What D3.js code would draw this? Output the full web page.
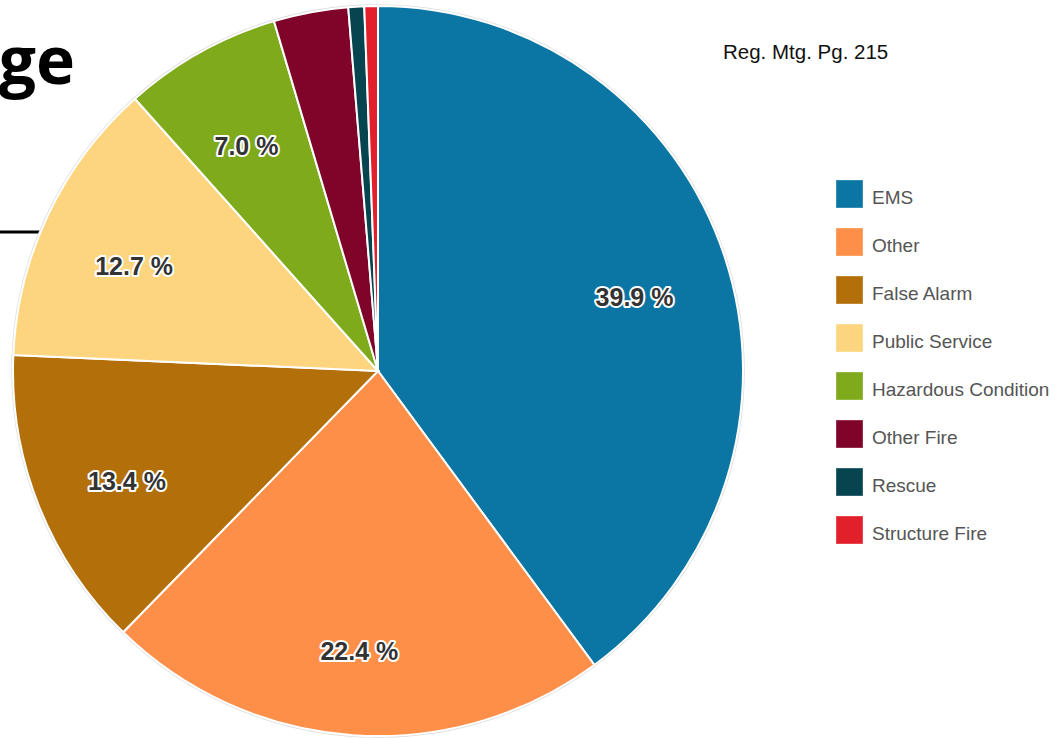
<!DOCTYPE html>
<html>
<head>
<meta charset="utf-8">
<script src="https://cdn.jsdelivr.net/npm/d3@7"></script>
<style>
  body { margin: 0; background: #fff; }
  svg { display: block; }
</style>
</head>
<body>
<svg id="chart" width="1061" height="738"></svg>
<script>
const categories = ["EMS", "Other", "False Alarm", "Public Service", "Hazardous Condition", "Other Fire", "Rescue", "Structure Fire"];
const values = [39.9, 22.4, 13.4, 12.7, 7.0, 3.3, 0.7, 0.6];
const colors = ["#0b76a4", "#fd8f48", "#b3700a", "#fdd57f", "#7faa1c", "#80042a", "#064550", "#e2202b"];
const shownLabels = ["39.9 %", "22.4 %", "13.4 %", "12.7 %", "7.0 %", "", "", ""];

let w = 1061, h = 738;
let cx = 378, cy = 371, r = 365;

const svg = d3.select("#chart");

// slide leftovers behind the chart
svg.append("text")
   .attr("x", 75)
   .attr("y", 84)
   .attr("text-anchor", "end")
   .style("font-family", "'Open Sans', sans-serif")
   .style("font-weight", "bold")
   .style("font-size", "66px")
   .style("fill", "#000")
   .text("ge");

svg.append("line")
   .attr("x1", 0).attr("x2", 60)
   .attr("y1", 232).attr("y2", 232)
   .style("stroke", "#000")
   .style("stroke-width", "3px");

svg.append("text")
   .attr("x", 723)
   .attr("y", 59)
   .style("font-family", "'Liberation Sans', Arial, sans-serif")
   .style("font-size", "20.5px")
   .style("fill", "#111")
   .text("Reg. Mtg. Pg. 215");

const data = categories.map((c, i) => ({ name: c, value: values[i], label: shownLabels[i] }));

let color = d3.scaleOrdinal().domain(categories).range(colors);

let pie = d3.pie().value(d => d.value).sort(null);
let arc = d3.arc().innerRadius(0).outerRadius(r);
let labelArc = d3.arc().innerRadius(270).outerRadius(270);

let g = svg.append("g").attr("transform", `translate(${cx}, ${cy})`);

g.append("circle")
 .attr("r", r + 1)
 .style("fill", "none")
 .style("stroke", "#ddd")
 .style("stroke-width", "1.5px");

g.selectAll("path")
 .data(pie(data))
 .enter()
 .append("path")
 .attr("d", arc)
 .style("fill", d => color(d.data.name))
 .style("stroke", "#fff")
 .style("stroke-width", "2px");

g.selectAll("text.lbl")
 .data(pie(data).filter(d => d.data.label))
 .enter()
 .append("text")
 .classed("lbl", true)
 .attr("transform", d => {
   let [x, y] = labelArc.centroid(d);
   return `translate(${x}, ${y + 13})`;
 })
 .attr("text-anchor", "middle")
 .attr("dominant-baseline", "middle")
 .style("font-family", "'Liberation Sans', Arial, sans-serif")
 .style("font-weight", "bold")
 .style("font-size", "25px")
 .style("fill", "#333")
 .style("stroke", "#fff")
 .style("stroke-width", "4px")
 .style("stroke-linejoin", "round")
 .style("paint-order", "stroke")
 .text(d => d.data.label);

// legend
let legendY = d3.scaleBand().domain(categories).range([180, 180 + 48 * categories.length]);

let legend = svg.append("g");
let items = legend.selectAll("g")
  .data(categories)
  .enter()
  .append("g")
  .attr("transform", d => `translate(836, ${legendY(d)})`);

items.append("rect")
  .attr("width", 27).attr("height", 28)
  .style("fill", d => color(d))
  .style("stroke", "rgba(255,255,255,0.35)")
  .style("stroke-width", "1px");

items.append("text")
  .attr("x", 36)
  .attr("y", 19)
  .attr("dominant-baseline", "middle")
  .style("font-family", "'Liberation Sans', Arial, sans-serif")
  .style("font-size", "19px")
  .style("fill", "#555")
  .text(d => d);
</script>
</body>
</html>
